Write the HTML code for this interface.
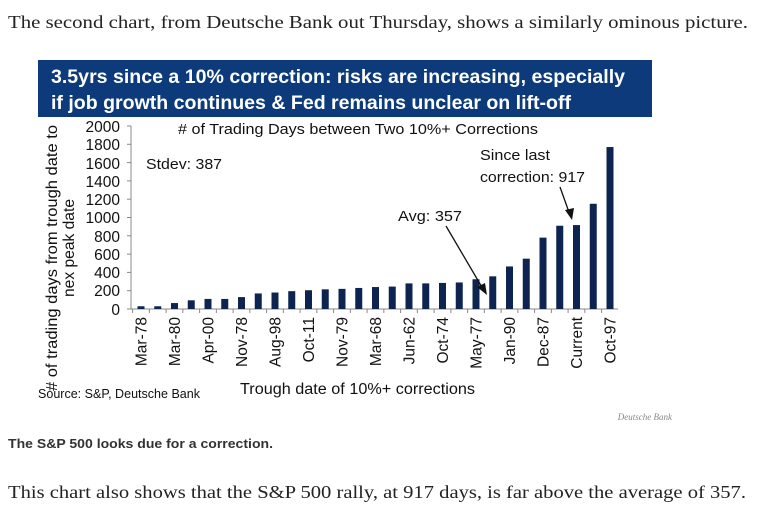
<!DOCTYPE html><html><head><style>
body{margin:0;width:776px;height:511px;background:#fff;overflow:hidden;position:relative}
</style></head><body>
<svg width="776" height="511" style="position:absolute;left:0;top:0" font-family="Liberation Sans, sans-serif">
<text x="8" y="28" font-family="Liberation Serif, serif" font-size="18" fill="#222" textLength="740" lengthAdjust="spacingAndGlyphs">The second chart, from Deutsche Bank out Thursday, shows a similarly ominous picture.</text>
<rect x="38" y="60" width="614" height="57" fill="#0c3a7a"/>
<text x="51" y="83" fill="#fff" font-size="19.5" font-weight="bold" textLength="574" lengthAdjust="spacingAndGlyphs">3.5yrs since a 10% correction: risks are increasing, especially</text>
<text x="51" y="109" fill="#fff" font-size="19.5" font-weight="bold" textLength="520" lengthAdjust="spacingAndGlyphs">if job growth continues &amp; Fed remains unclear on lift-off</text>
<g font-size="15.5" fill="#111" text-anchor="end">
<text x="120" y="132">2000</text><text x="120" y="150">1800</text><text x="120" y="169">1600</text><text x="120" y="187">1400</text><text x="120" y="205">1200</text><text x="120" y="223">1000</text><text x="120" y="242">800</text><text x="120" y="260">600</text><text x="120" y="278">400</text><text x="120" y="296">200</text><text x="120" y="315">0</text>
</g>
<line x1="131" y1="126" x2="131" y2="309" stroke="#888"/>
<line x1="131" y1="309" x2="618" y2="309" stroke="#888"/>
<g id="ticks" stroke="#888"></g>
<g id="bars" fill="#0d2450"></g>
<text x="178" y="134" font-size="15" fill="#111" textLength="360" lengthAdjust="spacingAndGlyphs"># of Trading Days between Two 10%+ Corrections</text>
<text x="146" y="169" font-size="15" fill="#111" textLength="76" lengthAdjust="spacingAndGlyphs">Stdev: 387</text>
<text x="398" y="221" font-size="15" fill="#111" textLength="64" lengthAdjust="spacingAndGlyphs">Avg: 357</text>
<text x="480" y="160" font-size="15" fill="#111" textLength="70" lengthAdjust="spacingAndGlyphs">Since last</text>
<text x="480" y="182" font-size="15" fill="#111" textLength="105" lengthAdjust="spacingAndGlyphs">correction: 917</text>
<line x1="446" y1="226" x2="483" y2="289" stroke="#111" stroke-width="1.3"/>
<polygon points="487,295 477,287 485,283" fill="#111"/>
<line x1="560" y1="187" x2="570" y2="215" stroke="#111" stroke-width="1.3"/>
<polygon points="572,220 565,210 574,208" fill="#111"/>
<g id="labs" font-size="15.5" fill="#111"></g>
<text x="38" y="398" font-size="12.5" fill="#111" textLength="162" lengthAdjust="spacingAndGlyphs">Source: S&amp;P, Deutsche Bank</text>
<text x="240" y="394" font-size="15.5" fill="#111" textLength="235" lengthAdjust="spacingAndGlyphs">Trough date of 10%+ corrections</text>
<text x="0" y="0" font-size="16" fill="#111" text-anchor="middle" textLength="266" lengthAdjust="spacingAndGlyphs" transform="translate(57 258) rotate(-90)"># of trading days from trough date to</text>
<text x="0" y="0" font-size="16" fill="#111" text-anchor="middle" textLength="98" lengthAdjust="spacingAndGlyphs" transform="translate(74 248) rotate(-90)">nex peak date</text>
<text x="672" y="420" font-size="9" font-family="Liberation Serif,serif" font-style="italic" fill="#888" text-anchor="end">Deutsche Bank</text>
<text x="8" y="448" font-size="13" font-weight="bold" fill="#333" textLength="265" lengthAdjust="spacingAndGlyphs">The S&amp;P 500 looks due for a correction.</text>
<text x="8" y="498" font-family="Liberation Serif, serif" font-size="18" fill="#222" textLength="738" lengthAdjust="spacingAndGlyphs">This chart also shows that the S&amp;P 500 rally, at 917 days, is far above the average of 357.</text>
</svg>
<script>
var v=[30,30,65,95,110,110,130,170,180,195,205,215,220,230,240,245,280,280,285,290,325,357,465,550,780,910,917,1150,1770];
var L=["Mar-78","Mar-80","Apr-00","Nov-78","Aug-98","Oct-11","Nov-79","Mar-68","Jun-62","Oct-74","May-77","Jan-90","Dec-87","Current","Oct-97"];
var b='',l='',t='';
for(var i=0;i<v.length;i++){var cx=141+i*16.75,h=v[i]*0.0915;b+='<rect x="'+(cx-3.5)+'" y="'+(309-h)+'" width="7" height="'+h+'"/>';t+='<line x1="'+(cx-8.4)+'" y1="309" x2="'+(cx-8.4)+'" y2="313"/>';}
for(var k=0;k<=10;k++){var y=309-k*18.3;t+='<line x1="127" y1="'+y+'" x2="131" y2="'+y+'"/>';}
for(var j=0;j<L.length;j++){var cx=141+2*j*16.75+5.5;l+='<text x="'+cx+'" y="317" text-anchor="end" transform="rotate(-90 '+cx+' 317)">'+L[j]+'</text>';}
document.getElementById('bars').innerHTML=b;document.getElementById('labs').innerHTML=l;document.getElementById('ticks').innerHTML=t;
</script>
</body></html>
